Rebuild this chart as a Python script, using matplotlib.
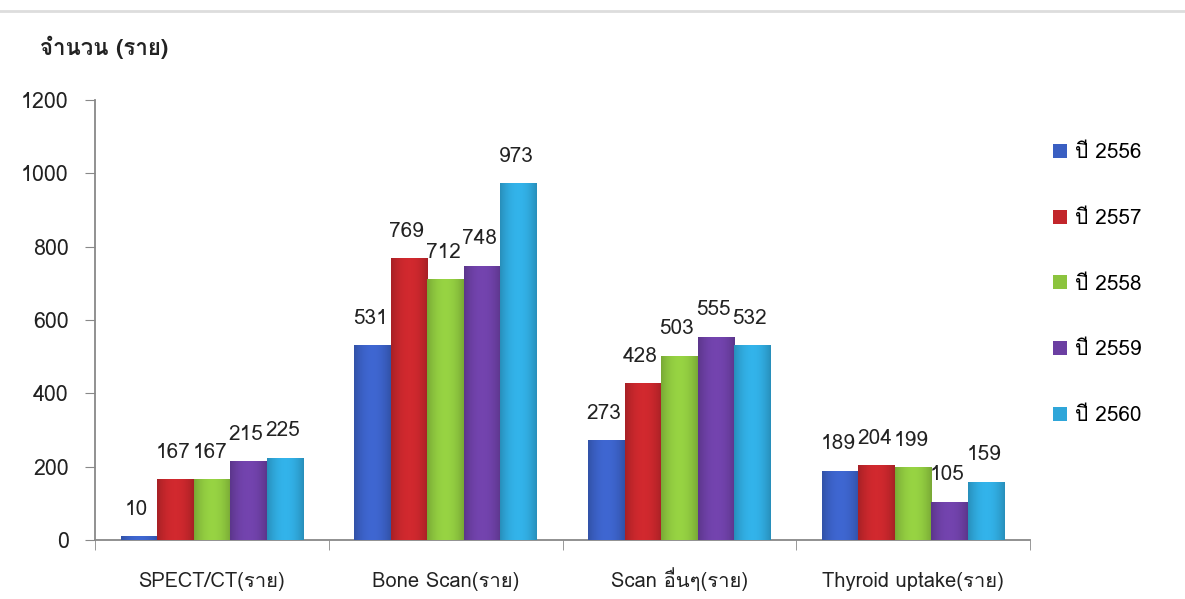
import numpy as np
import matplotlib
matplotlib.use("Agg")
import matplotlib.pyplot as plt
from matplotlib import colors, font_manager
from matplotlib.ft2font import FT2Font

categories = ["SPECT/CT(ราย)", "Bone Scan(ราย)", "Scan อื่นๆ(ราย)", "Thyroid uptake(ราย)"]
years = ["ปี 2556", "ปี 2557", "ปี 2558", "ปี 2559", "ปี 2560"]
y2556 = [10, 531, 273, 189]
y2557 = [167, 769, 428, 204]
y2558 = [167, 712, 503, 199]
y2559 = [215, 748, 555, 105]
y2560 = [225, 973, 532, 159]
yticks = [0, 200, 400, 600, 800, 1000, 1200]

series = [y2556, y2557, y2558, y2559, y2560]
bar_colors = ["#3a5fc2", "#c2262b", "#8cc43e", "#6b3fa2", "#2fa6d9"]


def thai_font():
    # pick the first installed family that actually has Thai glyphs
    for f in font_manager.fontManager.ttflist:
        try:
            ft = FT2Font(f.fname)
            if ft.get_char_index(ord("ร")) and ft.get_char_index(ord("2")):
                return f.name
        except Exception:
            continue
    return "DejaVu Sans"


fam = thai_font()
plt.rcParams["font.family"] = [fam, "DejaVu Sans"]

fig = plt.figure(figsize=(11.85, 5.99), dpi=100)
ax = fig.add_axes([0.0802, 0.0985, 0.789, 0.7345])

n = len(series)
width = 0.156
x = np.arange(len(categories))
for i, (vals, c) in enumerate(zip(series, bar_colors)):
    pos = x + (i - (n - 1) / 2) * width
    bars = ax.bar(pos, vals, width, color=c, label=years[i], zorder=2)
    # soft horizontal shading across each bar
    base = np.array(colors.to_rgb(c))
    t = np.linspace(-1, 1, 64)
    shade = 1.08 - 0.22 * t ** 2
    grad = np.clip(base[None, :] * shade[:, None], 0, 1)[None, :, :]
    for b, v in zip(bars, vals):
        x0 = b.get_x()
        im = ax.imshow(grad, extent=[x0, x0 + width, 0, v], aspect="auto",
                       zorder=3, interpolation="bilinear")
        im.set_clip_path(b)
        ax.text(b.get_x() + width / 2 - 0.01, v + 58, str(v), ha="center",
                va="baseline", fontsize=15, color="#222222", zorder=4)

ax.set_xlim(-0.5, len(categories) - 0.5)
ax.set_ylim(0, 1200)
ax.set_yticks(yticks)
ax.set_xticks(x)
ax.set_xticklabels(categories, fontsize=14.5, color="#222222")
for lbl in ax.get_xticklabels():
    lbl.set_va("baseline")
ax.set_xticks(np.arange(len(categories) + 1) - 0.5, minor=True)
ax.tick_params(axis="x", which="major", length=0, pad=34)
ax.tick_params(axis="x", which="minor", length=7, color="#888888", direction="out")
ax.tick_params(axis="y", length=7, color="#888888", pad=12, labelsize=15.5,
               labelcolor="#222222")
for s in ["top", "right"]:
    ax.spines[s].set_visible(False)
for s in ["left", "bottom"]:
    ax.spines[s].set_color("#888888")
    ax.spines[s].set_linewidth(1.3)

ax.legend(loc="upper left", bbox_to_anchor=(0.873, 0.792),
          bbox_transform=fig.transFigure, frameon=False, fontsize=15,
          handlelength=0.65, handleheight=0.65, handletextpad=0.4,
          labelspacing=2.24)

fig.text(0.034, 1 - 47 / 599, "จำนวน (ราย)", fontsize=16, fontweight="bold",
         va="center", color="#222222")
fig.add_artist(plt.Line2D([0, 1], [1 - 11 / 599, 1 - 11 / 599],
                          color="#dddddd", lw=2))

fig.savefig("out.png", dpi=100)
